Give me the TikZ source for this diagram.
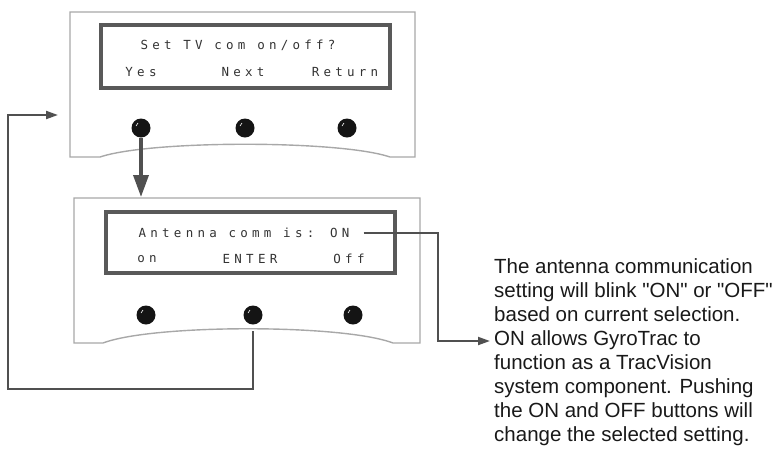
\documentclass[tikz,border=0pt]{standalone}
\usepackage{fontspec}
\newfontfamily\notefont{Liberation Sans}
\newfontfamily\lcdfont[LetterSpace=34]{DejaVu Sans Mono}
\usetikzlibrary{arrows.meta}

\definecolor{panelgray}{HTML}{A8A8A8}
\definecolor{lcdgray}{HTML}{595959}
\definecolor{wiregray}{HTML}{505050}

\tikzset{
  panel/.style={draw=panelgray, line width=1.4pt},
  lcd/.style={draw=lcdgray, line width=3.5pt},
  lcdtext/.style={font=\lcdfont\fontsize{12.5}{12.5}\selectfont, text=black!80, inner sep=0pt},
  knob/.style={circle, fill=black!92, minimum size=19pt, inner sep=0pt},
  wire/.style={draw=wiregray, line width=2pt},
  note/.style={font=\notefont\fontsize{20.5}{24}\selectfont, align=left, inner sep=0pt, text=black!90},
}

\begin{document}
\begin{tikzpicture}[x=1pt,y=-1pt]
        \useasboundingbox (0,0) rectangle (776,448);

        % Panel 1
        \draw[panel] (100,157) -- (70,157) -- (70,12) -- (415,12) -- (415,157) -- (390,157)
            .. controls (340,140) and (150,140) .. (100,157);
        \draw[lcd] (101,25) rectangle (390,88);
        \node[lcdtext] (set) at (238,45) {Set TV com on/off?};
        \node[lcdtext] (yes) at (141,72) {Yes};
        \node[lcdtext] (next) at (243,72) {Next};
        \node[lcdtext] (ret) at (345,72) {Return};
        \foreach \x [count=\i] in {141,245,347}
            \node[knob] (ka\i) at (\x,128) {};

        % Panel 2
        \draw[panel] (103,343) -- (74,343) -- (74,198) -- (420,198) -- (420,343) -- (393,343)
            .. controls (343,324) and (153,324) .. (103,343);
        \draw[lcd] (106,212) rectangle (395,273);
        \node[lcdtext] (comm) at (244,233) {Antenna comm is: ON};
        \node[lcdtext] (on) at (147,259) {on};
        \node[lcdtext] (enter) at (250,259) {ENTER};
        \node[lcdtext] (off) at (349,259) {Off};
        \foreach \x [count=\i] in {146,253,353}
            \node[knob] (kb\i) at (\x,315) {};

        % knob highlights
        \foreach \k in {ka1,ka2,ka3,kb1,kb2,kb3}
            \draw[white, line width=.6pt] ([shift={(-5,-2)}]\k.center) -- ([shift={(-3,-5)}]\k.center);

        \coordinate (p2top) at (0,197);
        \coordinate (p2bot) at (253,331);
        \coordinate (p1in) at (58,115);
        \coordinate (notetip) at (490,341);

        % Note
        \node[note, anchor=north west] (descr) at (494,258) {The antenna communication\\
            setting will blink "ON" or "OFF"\\
            based on current selection.\\
            ON allows GyroTrac to\\
            function as a TracVision\\
            system component. Pushing\\
            the ON and OFF buttons will\\
            change the selected setting.};

        % Connectors
        \draw[wire, line width=3.5pt, -{Triangle[length=22pt,width=15pt]}] (ka1.south) -- (ka1.south |- p2top);
        \draw[wire, -{Triangle[length=12pt,width=8pt]}] (p2bot) -- ++(0,58) -| (8,115) -- (p1in);
        \draw[wire, -{Triangle[length=12pt,width=8pt]}] ([xshift=14pt]comm.east) -| (438,341) -- (notetip);
\end{tikzpicture}
\end{document}
